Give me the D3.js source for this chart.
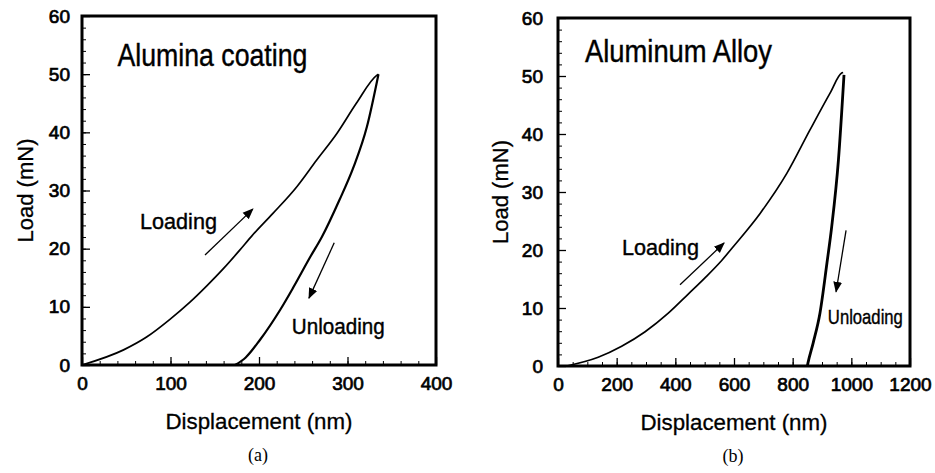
<!DOCTYPE html>
<html>
<head>
<meta charset="utf-8">
<script src="https://cdn.jsdelivr.net/npm/d3@7"></script>
<style>
  body { margin: 0; background: #fff; }
  svg text { font-family: "Liberation Sans", Arial, sans-serif; fill: #000; }
</style>
</head>
<body>
<div class="canvas"></div>
<script>
// (a) alumina coating, displacement nm / load mN
const coatLoadDisp = [0, 47, 73, 99, 122, 141, 160, 178, 192, 216, 243, 265, 288, 310, 333, 335];
const coatLoadForce = [0, 2.6, 4.8, 7.8, 10.8, 13.6, 16.6, 19.7, 22.2, 26.1, 30.7, 35.2, 39.8, 45.0, 49.8, 50.0];
const coatUnloadDisp = [173, 185, 201, 224, 239, 258, 271, 291, 307, 322, 335];
const coatUnloadForce = [0, 1.3, 4.3, 9.5, 13.4, 18.6, 22.0, 28.4, 34.1, 41.0, 50.0];

// (b) aluminum alloy
const alloyLoadDisp = [30, 137, 217, 297, 376, 444, 501, 558, 598, 689, 780, 859, 927, 967, 972];
const alloyLoadForce = [0, 1.5, 3.4, 5.9, 9.1, 12.4, 15.2, 18.2, 20.6, 26.3, 33.2, 40.7, 47.0, 50.5, 50.6];
const alloyUnloadDisp = [850, 852, 870, 893, 917, 933, 956, 975];
const alloyUnloadForce = [0, 0.5, 4.0, 9.1, 17.8, 24.0, 35.5, 50.2];

// tick labels
const loadTicks = [0, 10, 20, 30, 40, 50, 60];
const coatDispTicks = [0, 100, 200, 300, 400];
const alloyDispTicks = [0, 200, 400, 600, 800, 1000, 1200];

// annotation arrows [x1, y1, x2, y2] in data units
const coatLoadArrow = [139, 18.9, 193, 26.8];
const coatUnloadArrow = [285, 21.0, 256.5, 11.5];
const alloyLoadArrow = [416, 14.0, 566, 21.2];
const alloyUnloadArrow = [982, 23.4, 948, 12.8];

const svg = d3.select(".canvas").append("svg")
  .attr("width", 935)
  .attr("height", 473);

svg.append("defs").append("marker")
  .attr("id", "head")
  .attr("viewBox", "0 0 10 10")
  .attr("refX", 9).attr("refY", 5)
  .attr("markerWidth", 11).attr("markerHeight", 11)
  .attr("markerUnits", "userSpaceOnUse")
  .attr("orient", "auto")
  .append("path")
  .attr("d", "M0,1 L10,5 L0,9 z")
  .attr("fill", "#000");

const drawPanel = (p) => {
  const w = p.right - p.left;
  const h = p.bottom - p.top;
  const g = svg.append("g").attr("transform", `translate(${p.left},${p.top})`);

  //scales
  const x = d3.scaleLinear().domain(p.xDomain).range([0, w]);
  const y = d3.scaleLinear().domain([0, 60]).range([h, 0]);

  //minor ticks
  g.append("g")
    .attr("transform", `translate(0,${h})`)
    .call(d3.axisBottom(x).tickValues(d3.range(p.xDomain[0], p.xDomain[1], p.xMinor)).tickSize(-4).tickFormat(""))
    .call(a => a.select(".domain").remove());
  g.append("g")
    .call(d3.axisLeft(y).tickValues(d3.range(0, 60, 2)).tickSize(-4).tickFormat(""))
    .call(a => a.select(".domain").remove());

  //major ticks + labels
  const xAxis = g.append("g")
    .attr("transform", `translate(0,${h})`)
    .call(d3.axisBottom(x).tickValues(p.xTicks).tickSize(-8).tickPadding(12).tickFormat(d3.format("d")));
  const yAxis = g.append("g")
    .call(d3.axisLeft(y).tickValues(loadTicks).tickSize(-8).tickPadding(p.yPad));
  [xAxis, yAxis].forEach(a => {
    a.select(".domain").remove();
    a.selectAll("line").attr("stroke-width", 1.3);
    a.selectAll("text")
      .style("font-size", "19px")
      .attr("stroke", "#000")
      .attr("stroke-width", 0.7);
  });
  g.selectAll("line").attr("stroke", "#000");

  //curves
  const line = d3.line().curve(d3.curveMonotoneX).x(d => x(d[0])).y(d => y(d[1]));
  g.append("path")
    .datum(d3.zip(p.loadX, p.loadY))
    .attr("fill", "none").attr("stroke", "#000").attr("stroke-width", 1.7)
    .attr("d", line);
  g.append("path")
    .datum(d3.zip(p.unloadX, p.unloadY))
    .attr("fill", "none").attr("stroke", "#000").attr("stroke-width", p.unloadW)
    .attr("d", line);

  //frame
  g.append("rect")
    .attr("width", w).attr("height", h)
    .attr("fill", "none").attr("stroke", "#000").attr("stroke-width", 3);

  //arrows
  [p.arrowA, p.arrowB].forEach(a => {
    g.append("line")
      .attr("x1", x(a[0])).attr("y1", y(a[1]))
      .attr("x2", x(a[2])).attr("y2", y(a[3]))
      .attr("stroke", "#000").attr("stroke-width", 1.3)
      .attr("marker-end", "url(#head)");
  });

  //in-plot text
  p.notes.forEach(n => {
    g.append("text")
      .attr("x", x(n.x)).attr("y", y(n.y))
      .style("font-size", n.size + "px")
      .attr("textLength", n.len)
      .attr("lengthAdjust", "spacingAndGlyphs")
      .attr("stroke", "#000").attr("stroke-width", 0.4)
      .text(n.text);
  });

  //axis titles
  g.append("text")
    .attr("x", w / 2).attr("y", h + 64)
    .attr("text-anchor", "middle")
    .style("font-size", "22px")
    .attr("textLength", 187)
    .attr("lengthAdjust", "spacingAndGlyphs")
    .attr("stroke", "#000").attr("stroke-width", 0.3)
    .text("Displacement (nm)");
  g.append("text")
    .attr("transform", `translate(${p.yTitleX},${h / 2}) rotate(-90)`)
    .attr("text-anchor", "middle")
    .style("font-size", "22px")
    .attr("textLength", 104)
    .attr("lengthAdjust", "spacingAndGlyphs")
    .attr("stroke", "#000").attr("stroke-width", 0.3)
    .text("Load (mN)");

  //caption
  g.append("text")
    .attr("x", w / 2 - 1).attr("y", h + 96)
    .attr("text-anchor", "middle")
    .style("font-family", "'Liberation Serif', 'Times New Roman', serif")
    .style("font-size", "18px")
    .text(p.caption);
};

drawPanel({
  left: 82, right: 436, top: 16, bottom: 365,
  xDomain: [0, 400], xTicks: coatDispTicks, xMinor: 20, yPad: 12, yTitleX: -49,
  loadX: coatLoadDisp, loadY: coatLoadForce,
  unloadX: coatUnloadDisp, unloadY: coatUnloadForce, unloadW: 2.2,
  arrowA: coatLoadArrow, arrowB: coatUnloadArrow,
  notes: [
    { text: "Alumina coating", x: 40, y: 51.4, size: 31, len: 190 },
    { text: "Loading", x: 65.5, y: 23.4, size: 22, len: 77 },
    { text: "Unloading", x: 237, y: 5.3, size: 22, len: 93 }
  ],
  caption: "(a)"
});

drawPanel({
  left: 558, right: 910, top: 18, bottom: 366,
  xDomain: [0, 1200], xTicks: alloyDispTicks, xMinor: 50, yPad: 15, yTitleX: -50,
  loadX: alloyLoadDisp, loadY: alloyLoadForce,
  unloadX: alloyUnloadDisp, unloadY: alloyUnloadForce, unloadW: 2.8,
  arrowA: alloyLoadArrow, arrowB: alloyUnloadArrow,
  notes: [
    { text: "Aluminum Alloy", x: 92, y: 52.4, size: 31, len: 187 },
    { text: "Loading", x: 218, y: 19.1, size: 22, len: 77 },
    { text: "Unloading", x: 920, y: 7.2, size: 21, len: 75 }
  ],
  caption: "(b)"
});
</script>
</body>
</html>
